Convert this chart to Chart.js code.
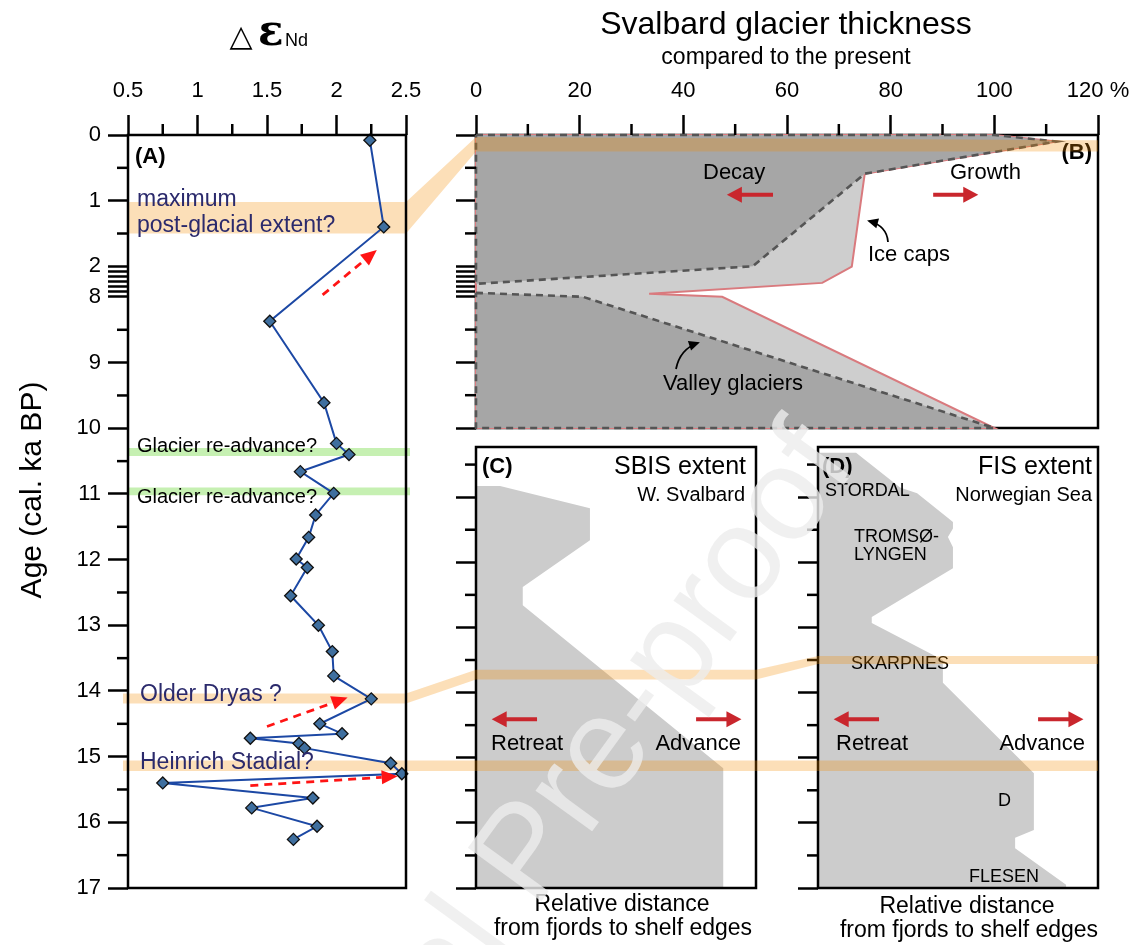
<!DOCTYPE html>
<html>
<head>
<meta charset="utf-8">
<script src="https://cdn.jsdelivr.net/npm/chart.js@4.4.1/dist/chart.umd.min.js"></script>
<style>
  html, body { margin: 0; padding: 0; background: #fff; }
  #wrap { position: relative; width: 1134px; height: 945px; overflow: hidden; }
  #wrap canvas { position: absolute; left: 0; top: 0; }
</style>
</head>
<body>
<div id="wrap">
  <canvas id="cB" width="1134" height="945"></canvas>
  <canvas id="cC" width="1134" height="945"></canvas>
  <canvas id="cD" width="1134" height="945"></canvas>
  <canvas id="cA" width="1134" height="945"></canvas>
  <canvas id="cMark" width="1134" height="945"></canvas>
</div>
<script>
// ---- donnees -------------------------------------------------------------
// (A) delta eps Nd, age in cal. ka BP
const ndAge   = [0.08, 1.40, 8.37, 9.61, 10.23, 10.40, 10.66, 10.99, 11.32, 11.66, 11.99, 12.12, 12.55, 13.00, 13.40,
                 13.77, 14.12, 14.50, 14.65, 14.72, 14.80, 14.87, 15.10, 15.26, 15.40, 15.63, 15.78, 16.06, 16.26];
const ndValue = [2.24, 2.34, 1.52, 1.91, 2.00, 2.09, 1.74, 1.98, 1.85, 1.80, 1.71, 1.79, 1.67, 1.87, 1.97,
                 1.98, 2.25, 1.88, 2.04, 1.38, 1.73, 1.77, 2.39, 2.47, 0.75, 1.83, 1.39, 1.86, 1.69];

// (B) Svalbard glacier thickness (% of present), outlines
const totalIceX   = [0, 100, 112, 75, 72.5, 66.8, 33.4, 47.5, 100, 0, 0];
const totalIceAge = [0, 0, 0.10, 0.59, 2.1, 5.27, 7.41, 8.0, 10, 10, 0];
const valleyUpX   = [0, 100, 112, 75, 53.4, 0, 0];
const valleyUpAge = [0, 0, 0.10, 0.59, 2.0, 5.46, 0];
const valleyLoX   = [0, 20.6, 100, 0, 0];
const valleyLoAge = [7.23, 8.0, 10, 10, 7.23];

// (C) SBIS extent, relative distance (%)
const sbisX   = [0, 8.6, 40.7, 40.7, 16.7, 16.7, 88.3, 88.3, 0];
const sbisAge = [10.83, 10.83, 11.17, 11.66, 12.38, 12.66, 15.16, 17, 17];

// (D) FIS extent
const fisX   = [0, 13.6, 29.3, 35.4, 46.1, 48.2, 48.2, 46.4, 48.2, 48.2, 19.2, 19.2, 44.6, 44.6, 77.1, 77.1, 70.4, 70.4, 88.6, 88.6, 0];
const fisAge = [10.32, 10.32, 10.85, 10.94, 11.31, 11.38, 11.48, 11.61, 11.77, 12.09, 12.84, 12.93, 13.50, 13.85,
                15.24, 16.11, 16.23, 16.39, 16.95, 17, 17];

// ticks
const ageTicks     = [0, 1, 2, 3, 4, 5, 6, 7, 8, 9, 10, 11, 12, 13, 14, 15, 16, 17];
const ageLabels    = ['0', '1', '2', '', '', '', '', '', '8', '9', '10', '11', '12', '13', '14', '15', '16', '17'];
const ageMinor     = [0.5, 1.5, 8.5, 9.5, 10.5, 11.5, 12.5, 13.5, 14.5, 15.5, 16.5];
const ndTicks      = [0.5, 1, 1.5, 2, 2.5];
const ndLabels     = ['0.5', '1', '1.5', '2', '2.5'];
const ndMinor      = [0.75, 1.25, 1.75, 2.25];
const thickTicks   = [0, 20, 40, 60, 80, 100, 120];
const thickLabels  = ['0', '20', '40', '60', '80', '100', '120 %'];
const thickMinor   = [10, 30, 50, 70, 90, 110];
const lowTicks     = [11, 12, 13, 14, 15, 16, 17];
const lowMinor     = [10.5, 11.5, 12.5, 13.5, 14.5, 15.5, 16.5];

// bands (ka BP)
const lgmBand      = { a: [1.02, 1.5], link: [0.03, 0.25], b: [0.08, 0.25] };
const readvance    = [[10.30, 10.42], [10.90, 11.02]];
const olderDryas   = { a: [14.04, 14.19], c: [13.65, 13.80], d: [13.44, 13.56] };
const heinrich     = [15.06, 15.22];

// ---- axe coupe entre 2 et 8 ka --------------------------------------------
const BREAK = 0.466;
function toAxis(age) {
  if (age <= 2) return age;
  if (age < 8) return 2 + (age - 2) * BREAK / 6;
  return age - 8 + 2 + BREAK;
}

Chart.defaults.font.family = "'Liberation Sans', Arial, sans-serif";
Chart.defaults.color = '#000';
Chart.defaults.animation = false;
Chart.defaults.events = [];
Chart.defaults.plugins.legend.display = false;
Chart.defaults.plugins.tooltip.enabled = false;

const FONT = "'Liberation Sans', Arial, sans-serif";
const NAVY = '#2b2a6c';
const ARROW_RED = '#c9262d';

function fixSize(size) {
  return function (scale) {
    if (scale.isHorizontal()) scale.height = size; else scale.width = size;
    scale.paddingLeft = scale.paddingRight = scale.paddingTop = scale.paddingBottom = 0;
  };
}
const setTicks = vals => scale => { scale.ticks = vals.map(v => ({ value: v })); };
const gridOpts = { drawOnChartArea: false, drawTicks: true, tickLength: 20, tickWidth: 2.5, tickColor: '#000' };

function line(ctx, x1, y1, x2, y2) {
  ctx.beginPath(); ctx.moveTo(x1, y1); ctx.lineTo(x2, y2); ctx.stroke();
}
function strokeBox(chart) {
  const a = chart.chartArea, ctx = chart.ctx;
  ctx.save(); ctx.strokeStyle = '#000'; ctx.lineWidth = 2.5;
  ctx.strokeRect(a.left, a.top, a.right - a.left, a.bottom - a.top);
  ctx.restore();
}
function texts(ctx, list) {
  ctx.save();
  ctx.textBaseline = 'middle';
  list.forEach(t => {
    ctx.font = t.f; ctx.fillStyle = t.c || '#000'; ctx.textAlign = t.a || 'left';
    ctx.fillText(t.t, t.x, t.y);
  });
  ctx.restore();
}
function solidArrow(ctx, x1, x2, y) {
  const d = Math.sign(x2 - x1);
  ctx.save(); ctx.strokeStyle = ctx.fillStyle = ARROW_RED; ctx.lineWidth = 4;
  line(ctx, x1, y, x2 - d * 12, y);
  ctx.beginPath(); ctx.moveTo(x2, y); ctx.lineTo(x2 - d * 15, y - 8); ctx.lineTo(x2 - d * 15, y + 8); ctx.closePath(); ctx.fill();
  ctx.restore();
}
function dashArrow(ctx, x1, y1, x2, y2) {
  const ang = Math.atan2(y2 - y1, x2 - x1), L = 16, W = 7;
  const bx = x2 - L * Math.cos(ang), by = y2 - L * Math.sin(ang);
  ctx.save(); ctx.strokeStyle = ctx.fillStyle = '#ff1414'; ctx.lineWidth = 2.8;
  ctx.setLineDash([8, 6]); line(ctx, x1, y1, bx, by); ctx.setLineDash([]);
  ctx.beginPath(); ctx.moveTo(x2, y2);
  ctx.lineTo(bx + W * Math.sin(ang), by - W * Math.cos(ang));
  ctx.lineTo(bx - W * Math.sin(ang), by + W * Math.cos(ang));
  ctx.closePath(); ctx.fill(); ctx.restore();
}
function curvedArrow(ctx, x1, y1, cx, cy, x2, y2) {
  ctx.save(); ctx.strokeStyle = ctx.fillStyle = '#000'; ctx.lineWidth = 1.8;
  ctx.beginPath(); ctx.moveTo(x1, y1); ctx.quadraticCurveTo(cx, cy, x2, y2); ctx.stroke();
  const ang = Math.atan2(y2 - cy, x2 - cx), L = 9, W = 5;
  const bx = x2 - L * Math.cos(ang), by = y2 - L * Math.sin(ang);
  ctx.beginPath(); ctx.moveTo(x2 + 2 * Math.cos(ang), y2 + 2 * Math.sin(ang));
  ctx.lineTo(bx + W * Math.sin(ang), by - W * Math.cos(ang));
  ctx.lineTo(bx - W * Math.sin(ang), by + W * Math.cos(ang));
  ctx.closePath(); ctx.fill(); ctx.restore();
}

// petit plugin de decor, un par graphique
function decor(cfg) {
  return {
    id: 'decor',
    beforeDatasetsDraw(chart) {
      if (cfg.under) cfg.under(chart, chart.ctx);
      if (cfg.boxFirst) strokeBox(chart);
    },
    afterDatasetsDraw(chart) {
      const ctx = chart.ctx, a = chart.chartArea;
      if (!cfg.boxFirst) strokeBox(chart);
      ctx.save(); ctx.strokeStyle = '#000'; ctx.lineWidth = 2.5;
      (cfg.minorX || []).forEach(v => {
        const px = chart.scales.x.getPixelForValue(v);
        line(ctx, px, a.top, px, a.top - 11);
      });
      (cfg.minorY || []).forEach(v => {
        const py = chart.scales.y.getPixelForValue(v);
        line(ctx, a.left, py, a.left - 11, py);
      });
      ctx.restore();
    },
    afterDraw(chart) {
      if (cfg.over) cfg.over(chart, chart.ctx);
      if (cfg.texts) texts(chart.ctx, cfg.texts);
    }
  };
}

function polygon(xs, ages, map, fill, border, dash) {
  return {
    data: xs.map((x, i) => ({ x: x, y: map(ages[i]) })),
    fill: 'shape', backgroundColor: fill, borderColor: border, borderWidth: dash ? 2.6 : 2,
    borderDash: dash || [], pointRadius: 0, tension: 0, clip: 6
  };
}

// ---- (B) glacier thickness -------------------------------------------------
const chB = new Chart(document.getElementById('cB'), {
  type: 'line',
  data: {
    datasets: [
      polygon(valleyUpX, valleyUpAge, toAxis, '#a6a6a6', '#555555', [7, 5]),
      polygon(valleyLoX, valleyLoAge, toAxis, '#a6a6a6', '#555555', [7, 5]),
      polygon(totalIceX, totalIceAge, toAxis, '#cecece', '#d97a7e', null)
    ]
  },
  options: {
    responsive: false,
    layout: { padding: { left: 416, top: 60, right: 36, bottom: 517 } },
    scales: {
      x: {
        type: 'linear', position: 'top', min: 0, max: 120,
        border: { display: false }, grid: gridOpts,
        afterBuildTicks: setTicks(thickTicks), afterFit: fixSize(75),
        ticks: { autoSkip: false, maxRotation: 0, padding: 11, font: { size: 22 }, callback: (v, i) => thickLabels[i] }
      },
      y: {
        type: 'linear', position: 'left', reverse: true, min: 0, max: toAxis(10),
        border: { display: false }, grid: gridOpts,
        afterBuildTicks: setTicks(ageTicks.filter(a => a <= 10).map(toAxis)), afterFit: fixSize(60),
        ticks: { display: false, autoSkip: false }
      }
    }
  },
  plugins: [decor({
    boxFirst: true,
    minorX: thickMinor,
    minorY: [0.5, 1.5, 8.5, 9.5].map(toAxis),
    over(chart, ctx) {
      const sx = chart.scales.x, sy = chart.scales.y;
      solidArrow(ctx, sx.getPixelForValue(57.3), sx.getPixelForValue(48.4), sy.getPixelForValue(toAxis(0.91)));
      solidArrow(ctx, sx.getPixelForValue(88.2), sx.getPixelForValue(96.9), sy.getPixelForValue(toAxis(0.91)));
      curvedArrow(ctx, 888, 242, 887, 226, 869, 221);
      curvedArrow(ctx, 676, 369, 680, 349, 698, 343);
    },
    texts: [
      { t: 'Svalbard glacier thickness', x: 786, y: 25, f: '32px ' + FONT, a: 'center' },
      { t: 'compared to the present', x: 786, y: 58, f: '23px ' + FONT, a: 'center' },
      { t: 'Decay', x: 703, y: 173, f: '22px ' + FONT },
      { t: 'Growth', x: 950, y: 173, f: '22px ' + FONT },
      { t: 'Ice caps', x: 868, y: 255, f: '22px ' + FONT },
      { t: 'Valley glaciers', x: 733, y: 384, f: '22px ' + FONT, a: 'center' },
      { t: '(B)', x: 1092, y: 153, f: 'bold 22px ' + FONT, a: 'right' }
    ]
  })]
});

// ---- (C) SBIS ----------------------------------------------------------------
function extentChart(id, xs, ages, padLeft, padRight, cfg) {
  return new Chart(document.getElementById(id), {
    type: 'line',
    data: { datasets: [polygon(xs, ages, a => a, '#cccccc', 'rgba(0,0,0,0)', null)] },
    options: {
      responsive: false,
      layout: { padding: { left: padLeft, top: 447, right: padRight, bottom: 57 } },
      scales: {
        x: { type: 'linear', min: 0, max: 100, display: false },
        y: {
          type: 'linear', position: 'left', reverse: true, min: 10.23, max: 17,
          border: { display: false }, grid: gridOpts,
          afterBuildTicks: setTicks(lowTicks), afterFit: fixSize(40),
          ticks: { display: false, autoSkip: false }
        }
      }
    },
    plugins: [decor(Object.assign({ minorY: lowMinor }, cfg))]
  });
}

const arrowsLow = (chart, ctx) => {
  const sx = chart.scales.x, y = chart.scales.y.getPixelForValue(14.41);
  solidArrow(ctx, sx.getPixelForValue(21.8), sx.getPixelForValue(5.6), y);
  solidArrow(ctx, sx.getPixelForValue(78.6), sx.getPixelForValue(94.8), y);
};

const chC = extentChart('cC', sbisX, sbisAge, 436, 378, {
  over: arrowsLow,
  texts: [
    { t: '(C)', x: 482, y: 467, f: 'bold 22px ' + FONT },
    { t: 'SBIS extent', x: 746, y: 467, f: '25px ' + FONT, a: 'right' },
    { t: 'W. Svalbard', x: 745, y: 495, f: '20px ' + FONT, a: 'right' },
    { t: 'Retreat', x: 491, y: 744, f: '22px ' + FONT },
    { t: 'Advance', x: 741, y: 744, f: '22px ' + FONT, a: 'right' },
    { t: 'Relative distance', x: 622, y: 905, f: '23px ' + FONT, a: 'center' },
    { t: 'from fjords to shelf edges', x: 623, y: 929, f: '23px ' + FONT, a: 'center' }
  ]
});

// ---- (D) FIS -----------------------------------------------------------------
const chD = extentChart('cD', fisX, fisAge, 778, 36, {
  over: arrowsLow,
  texts: [
    { t: '(D)', x: 822, y: 467, f: 'bold 22px ' + FONT },
    { t: 'FIS extent', x: 1092, y: 467, f: '25px ' + FONT, a: 'right' },
    { t: 'Norwegian Sea', x: 1092, y: 495, f: '20px ' + FONT, a: 'right' },
    { t: 'STORDAL', x: 825, y: 491, f: '18px ' + FONT },
    { t: 'TROMSØ-', x: 854, y: 537, f: '18px ' + FONT },
    { t: 'LYNGEN', x: 854, y: 555, f: '18px ' + FONT },
    { t: 'SKARPNES', x: 851, y: 664, f: '18px ' + FONT },
    { t: 'D', x: 998, y: 801, f: '18px ' + FONT },
    { t: 'FLESEN', x: 969, y: 877, f: '18px ' + FONT },
    { t: 'Retreat', x: 836, y: 744, f: '22px ' + FONT },
    { t: 'Advance', x: 1085, y: 744, f: '22px ' + FONT, a: 'right' },
    { t: 'Relative distance', x: 967, y: 907, f: '23px ' + FONT, a: 'center' },
    { t: 'from fjords to shelf edges', x: 969, y: 931, f: '23px ' + FONT, a: 'center' }
  ]
});

// ---- bandes (dessinees dans le canvas A, semi-transparentes) ---------------
function drawBands(chA, ctx) {
  const A = chA.chartArea, B = chB.chartArea, C = chC.chartArea, D = chD.chartArea;
  const ay = v => chA.scales.y.getPixelForValue(toAxis(v));
  const by = v => chB.scales.y.getPixelForValue(toAxis(v));
  const cy = v => chC.scales.y.getPixelForValue(v);
  const dy = v => chD.scales.y.getPixelForValue(v);
  const quad = pts => { ctx.beginPath(); pts.forEach((p, i) => i ? ctx.lineTo(p[0], p[1]) : ctx.moveTo(p[0], p[1])); ctx.closePath(); ctx.fill(); };
  ctx.save();
  ctx.fillStyle = 'rgba(244,140,0,0.28)';
  // maximum post-glacial extent
  quad([[A.left, ay(lgmBand.a[0])], [A.right, ay(lgmBand.a[0])], [B.left, by(lgmBand.link[0])], [B.right, by(lgmBand.b[0])],
        [B.right, by(lgmBand.b[1])], [B.left, by(lgmBand.link[1])], [A.right, ay(lgmBand.a[1])], [A.left, ay(lgmBand.a[1])]]);
  // Older Dryas
  const od = olderDryas;
  quad([[A.left - 5, ay(od.a[0])], [A.right, ay(od.a[0])], [C.left, cy(od.c[0])], [C.right, cy(od.c[0])], [D.left, dy(od.d[0])], [D.right, dy(od.d[0])],
        [D.right, dy(od.d[1])], [D.left, dy(od.d[1])], [C.right, cy(od.c[1])], [C.left, cy(od.c[1])], [A.right, ay(od.a[1])], [A.left - 5, ay(od.a[1])]]);
  // Heinrich Stadial
  quad([[A.left - 5, ay(heinrich[0])], [D.right, ay(heinrich[0])], [D.right, ay(heinrich[1])], [A.left - 5, ay(heinrich[1])]]);
  // glacier re-advances
  ctx.fillStyle = 'rgb(198,240,178)';
  readvance.forEach(r => quad([[A.left, ay(r[0])], [A.right + 4, ay(r[0])], [A.right + 4, ay(r[1])], [A.left, ay(r[1])]]));
  ctx.restore();
}

// ---- (A) delta eps Nd --------------------------------------------------------
const chA = new Chart(document.getElementById('cA'), {
  type: 'line',
  data: {
    datasets: [{
      data: ndValue.map((v, i) => ({ x: v, y: toAxis(ndAge[i]) })),
      borderColor: '#1c48a4', borderWidth: 2, tension: 0, fill: false,
      pointStyle: 'rectRot', pointRadius: 6, pointBackgroundColor: '#3f6f9f',
      pointBorderColor: '#111111', pointBorderWidth: 1.3, clip: false
    }]
  },
  options: {
    responsive: false,
    layout: { padding: { left: 68, top: 60, right: 728, bottom: 57 } },
    scales: {
      x: {
        type: 'linear', position: 'top', min: 0.5, max: 2.5,
        border: { display: false }, grid: gridOpts,
        afterBuildTicks: setTicks(ndTicks), afterFit: fixSize(75),
        ticks: { autoSkip: false, maxRotation: 0, padding: 11, font: { size: 22 }, callback: (v, i) => ndLabels[i] }
      },
      y: {
        type: 'linear', position: 'left', reverse: true, min: 0, max: toAxis(17),
        border: { display: false }, grid: gridOpts,
        afterBuildTicks: setTicks(ageTicks.map(toAxis)), afterFit: fixSize(60),
        ticks: { autoSkip: false, padding: 7, font: { size: 22 }, callback: (v, i) => ageLabels[i] }
      }
    }
  },
  plugins: [decor({
    minorX: ndMinor,
    minorY: ageMinor.map(toAxis),
    under: drawBands,
    over(chart, ctx) {
      const sx = chart.scales.x, sy = chart.scales.y;
      const P = (v, age) => [sx.getPixelForValue(v), sy.getPixelForValue(toAxis(age))];
      [[[1.90, 7.6], [2.29, 1.75]], [[1.50, 14.54], [2.08, 14.10]], [[1.38, 15.44], [2.44, 15.30]]].forEach(a => {
        const p = P(a[0][0], a[0][1]), q = P(a[1][0], a[1][1]);
        dashArrow(ctx, p[0], p[1], q[0], q[1]);
      });
      // titres des axes
      ctx.save();
      ctx.textBaseline = 'alphabetic'; ctx.fillStyle = '#000';
      ctx.font = "30px 'DejaVu Sans'"; ctx.textAlign = 'center'; ctx.fillText('△', 241, 46);
      ctx.font = "bold 42px 'DejaVu Serif'"; ctx.textAlign = 'left'; ctx.fillText('ε', 258, 45);
      ctx.font = '18px ' + FONT; ctx.fillText('Nd', 285, 46);
      ctx.translate(33, 490); ctx.rotate(-Math.PI / 2);
      ctx.font = '30px ' + FONT; ctx.textAlign = 'center'; ctx.textBaseline = 'middle';
      ctx.fillText('Age (cal. ka BP)', 0, 0);
      ctx.restore();
    },
    texts: [
      { t: '(A)', x: 135, y: 157, f: 'bold 22px ' + FONT },
      { t: 'maximum', x: 137, y: 200, f: '23px ' + FONT, c: NAVY },
      { t: 'post-glacial extent?', x: 137, y: 226, f: '23px ' + FONT, c: NAVY },
      { t: 'Glacier re-advance?', x: 137, y: 446, f: '20px ' + FONT },
      { t: 'Glacier re-advance?', x: 137, y: 497, f: '20px ' + FONT },
      { t: 'Older Dryas ?', x: 140, y: 695, f: '23px ' + FONT, c: NAVY },
      { t: 'Heinrich Stadial?', x: 140, y: 763, f: '23px ' + FONT, c: NAVY }
    ]
  })]
});

// ---- filigrane ------------------------------------------------------------------
(function () {
  const ctx = document.getElementById('cMark').getContext('2d');
  ctx.save();
  ctx.translate(535, 910);
  ctx.rotate(-54 * Math.PI / 180);
  ctx.font = '132px ' + FONT;
  ctx.fillStyle = 'rgba(236,236,236,0.8)';
  const w = ctx.measureText('Journal ').width;
  ctx.fillText('Journal Pre-proof', -w, 0);
  ctx.restore();
})();
</script>
</body>
</html>
